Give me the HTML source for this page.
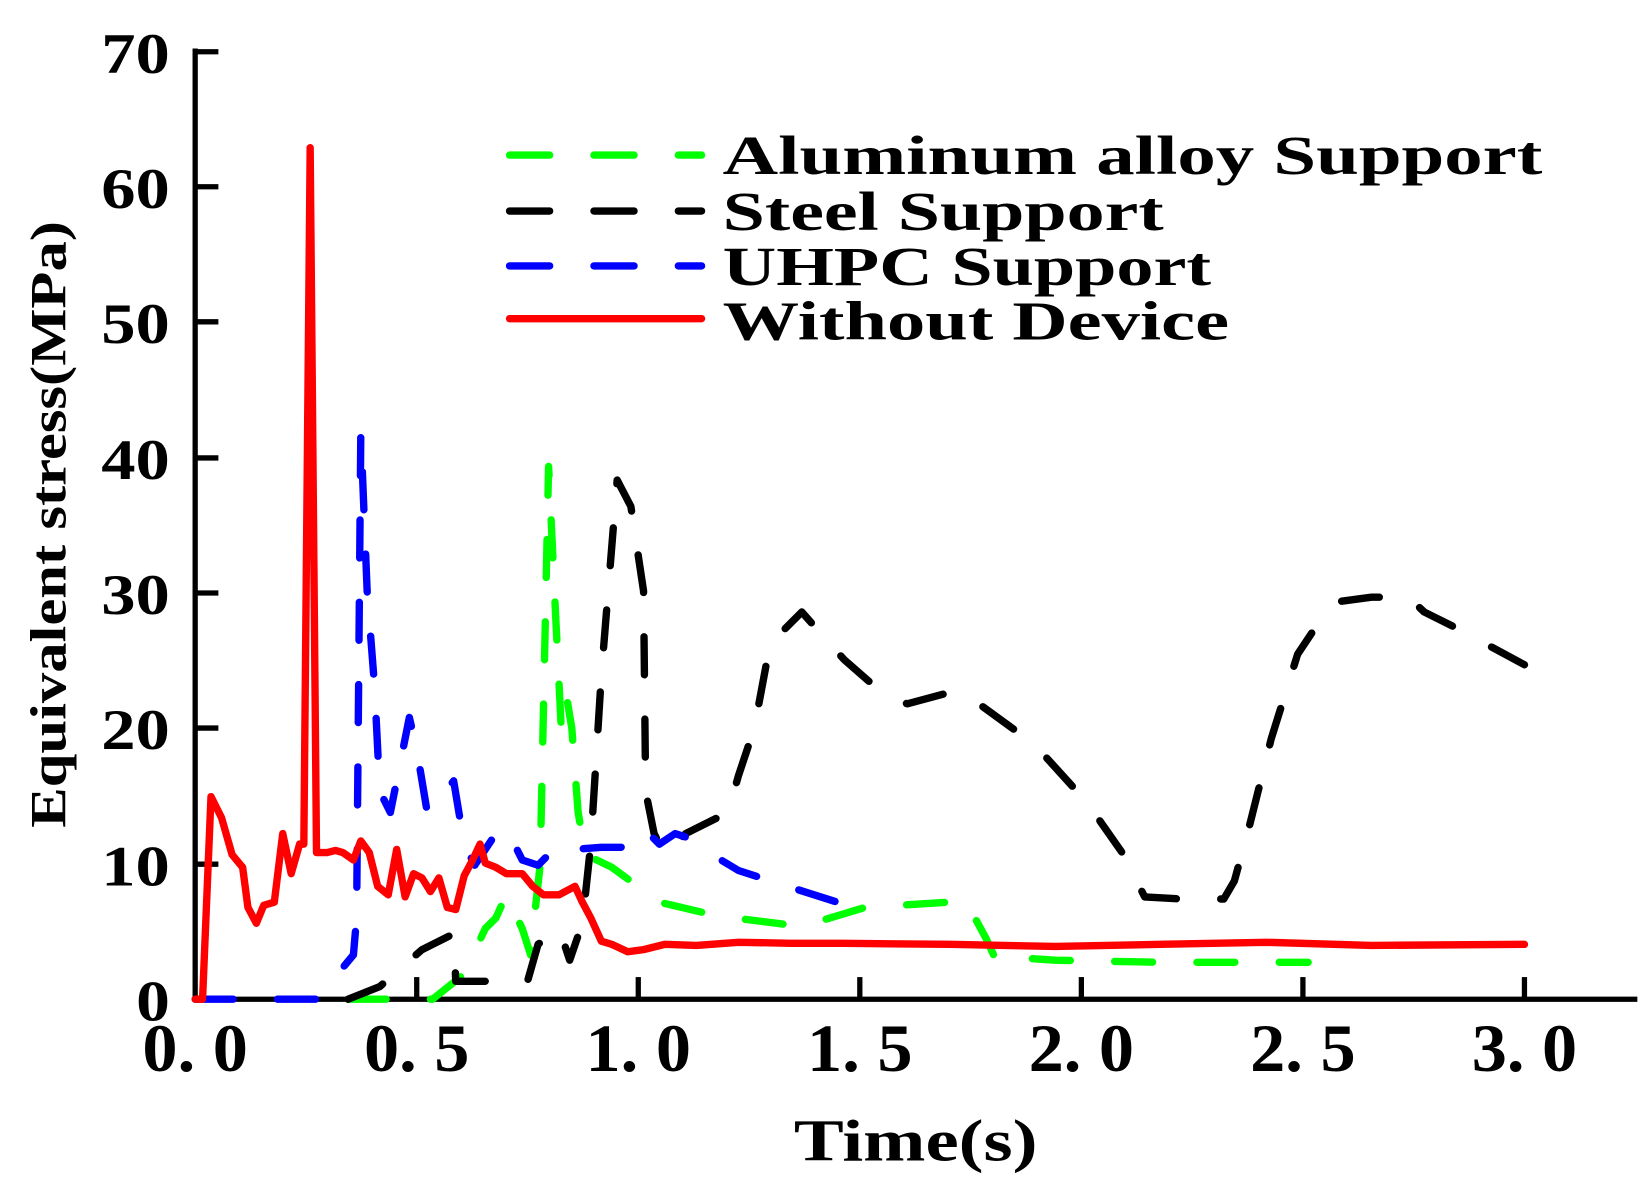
<!DOCTYPE html>
<html><head><meta charset="utf-8"><style>html,body{margin:0;padding:0;background:#fff}svg{display:block}</style></head>
<body>
<svg width="1650" height="1186" viewBox="0 0 1564 1124" preserveAspectRatio="none" xmlns="http://www.w3.org/2000/svg">
<rect width="1564" height="1124" fill="#fff"/>
<g stroke="#000" stroke-width="5" fill="none">
<line x1="185" y1="46" x2="185" y2="949"/>
<line x1="183" y1="947" x2="1552" y2="947"/>
<line x1="185" y1="49" x2="207" y2="49"/>
<line x1="185" y1="177" x2="207" y2="177"/>
<line x1="185" y1="305" x2="207" y2="305"/>
<line x1="185" y1="434" x2="207" y2="434"/>
<line x1="185" y1="562" x2="207" y2="562"/>
<line x1="185" y1="690" x2="207" y2="690"/>
<line x1="185" y1="819" x2="207" y2="819"/>
<line x1="395" y1="947" x2="395" y2="926"/>
<line x1="605" y1="947" x2="605" y2="926"/>
<line x1="815" y1="947" x2="815" y2="926"/>
<line x1="1025" y1="947" x2="1025" y2="926"/>
<line x1="1235" y1="947" x2="1235" y2="926"/>
<line x1="1445" y1="947" x2="1445" y2="926"/>
</g>
<g font-family="Liberation Serif, serif" font-weight="bold" font-size="54" fill="#000" text-anchor="end">
<text x="161" y="69" textLength="65" lengthAdjust="spacingAndGlyphs">70</text>
<text x="161" y="197" textLength="65" lengthAdjust="spacingAndGlyphs">60</text>
<text x="161" y="325" textLength="65" lengthAdjust="spacingAndGlyphs">50</text>
<text x="161" y="454" textLength="65" lengthAdjust="spacingAndGlyphs">40</text>
<text x="161" y="582" textLength="65" lengthAdjust="spacingAndGlyphs">30</text>
<text x="161" y="710" textLength="65" lengthAdjust="spacingAndGlyphs">20</text>
<text x="161" y="839" textLength="65" lengthAdjust="spacingAndGlyphs">10</text>
<text x="161" y="967" textLength="32" lengthAdjust="spacingAndGlyphs">0</text>
</g>
<g font-family="Liberation Serif, serif" font-weight="bold" font-size="64" fill="#000" text-anchor="middle">
<text x="185" y="1015" textLength="100" lengthAdjust="spacingAndGlyphs">0. 0</text>
<text x="395" y="1015" textLength="100" lengthAdjust="spacingAndGlyphs">0. 5</text>
<text x="605" y="1015" textLength="100" lengthAdjust="spacingAndGlyphs">1. 0</text>
<text x="815" y="1015" textLength="100" lengthAdjust="spacingAndGlyphs">1. 5</text>
<text x="1025" y="1015" textLength="100" lengthAdjust="spacingAndGlyphs">2. 0</text>
<text x="1235" y="1015" textLength="100" lengthAdjust="spacingAndGlyphs">2. 5</text>
<text x="1445" y="1015" textLength="100" lengthAdjust="spacingAndGlyphs">3. 0</text>
<text x="868" y="1100" font-size="56" textLength="231" lengthAdjust="spacingAndGlyphs">Time(s)</text>
<text transform="translate(62,497) rotate(-90)" font-size="48" textLength="575" lengthAdjust="spacingAndGlyphs">Equivalent stress(MPa)</text>
</g>
<g fill="none" stroke-linecap="round" stroke-linejoin="round">
<path stroke="#00ff00" stroke-width="7" stroke-dasharray="36 42" d="M330,947 L410,947 L440,923 L460,880 L470,870 L480,848 L495,880 L503,905 L507,865 L512,820 L520,442 L527,590 L532,690 L537,660 L542,690 L548,770 L555,810 L580,822 L625,855 L680,868 L760,878 L820,860 L900,855 L915,853 L935,890 L945,912 L970,908 L1000,910 L1100,912 L1240,912"/>
<path stroke="#000" stroke-width="7" stroke-dasharray="36 42" d="M330,947 L360,935 L400,900 L430,885 L432,930 L500,930 L510,895 L530,880 L540,910 L552,875 L560,800 L570,640 L585,455 L598,480 L610,560 L612,750 L620,790 L630,810 L650,790 L690,770 L700,735 L715,690 L730,610 L760,580 L800,625 L840,660 L860,667 L905,655 L925,665 L980,705 L1030,760 L1065,810 L1085,850 L1120,852 L1160,852 L1170,835 L1185,780 L1205,700 L1230,620 L1250,590 L1270,570 L1300,566 L1335,566 L1350,580 L1380,595 L1445,630"/>
<path stroke="#0000ff" stroke-width="7" stroke-dasharray="36 42" d="M185,947 L300,947 L335,905 L338,870 L342,410 L348,560 L355,650 L360,750 L370,770 L378,730 L388,680 L395,710 L405,770 L415,760 L430,740 L440,800 L450,820 L460,805 L470,790 L480,785 L495,815 L510,820 L530,800 L545,805 L570,803 L590,803 L605,785 L615,790 L625,800 L640,790 L655,795 L675,810 L700,825 L740,838 L800,857"/>
<path stroke="#ff0000" stroke-width="7" d="M185,947 L192,947 L200,755 L210,775 L220,810 L230,822 L235,860 L243,875 L250,858 L260,855 L268,790 L276,828 L284,800 L288,800 L294,140 L300,808 L310,808 L318,806 L325,808 L335,815 L342,797 L350,808 L358,840 L368,848 L376,805 L384,850 L392,828 L400,832 L408,845 L416,832 L424,860 L432,862 L440,830 L448,815 L455,800 L460,818 L470,822 L480,828 L495,828 L505,840 L515,848 L530,848 L545,840 L552,855 L560,870 L570,892 L580,895 L595,902 L610,900 L630,895 L660,896 L700,893 L750,894 L800,894 L900,895 L1000,897 L1100,895 L1200,893 L1300,896 L1445,895"/>
<line x1="483" y1="147" x2="665" y2="147" stroke="#00ff00" stroke-width="7" stroke-dasharray="38 42"/>
<line x1="483" y1="200" x2="665" y2="200" stroke="#000" stroke-width="7" stroke-dasharray="38 42"/>
<line x1="483" y1="252" x2="665" y2="252" stroke="#0000ff" stroke-width="7" stroke-dasharray="38 42"/>
<line x1="483" y1="302" x2="665" y2="302" stroke="#ff0000" stroke-width="7"/>
</g>
<g font-family="Liberation Serif, serif" font-weight="bold" font-size="52" fill="#000">
<text x="685" y="165" textLength="777" lengthAdjust="spacingAndGlyphs">Aluminum alloy Support</text>
<text x="685" y="218" textLength="418" lengthAdjust="spacingAndGlyphs">Steel Support</text>
<text x="685" y="270" textLength="463" lengthAdjust="spacingAndGlyphs">UHPC Support</text>
<text x="685" y="322" textLength="480" lengthAdjust="spacingAndGlyphs">Without Device</text>
</g>
</svg>
</body></html>
